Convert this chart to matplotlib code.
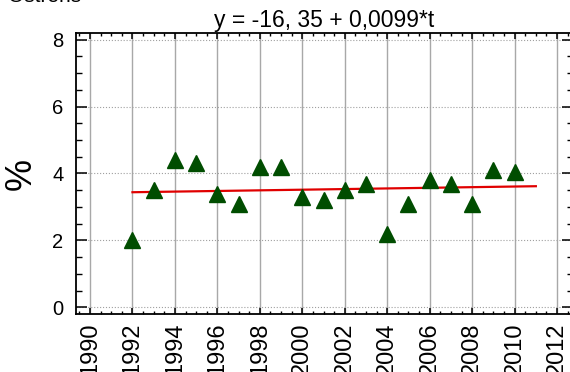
import matplotlib.pyplot as plt
from matplotlib.ticker import MultipleLocator

plt.rcParams['font.family'] = ['Liberation Sans', 'DejaVu Sans']

years = [1992, 1993, 1994, 1995, 1996, 1997, 1998, 1999, 2000, 2001,
         2002, 2003, 2004, 2005, 2006, 2007, 2008, 2009, 2010]
values = [2.0, 3.5, 4.4, 4.3, 3.4, 3.1, 4.2, 4.2, 3.3, 3.2,
          3.5, 3.7, 2.2, 3.1, 3.8, 3.7, 3.1, 4.1, 4.05]
trend_years = [1992, 2011]
trend_values = [3.44, 3.62]
title = 'y = -16, 35 + 0,0099*t'

fig = plt.figure(figsize=(5.7, 3.72), dpi=100)
ax = fig.add_axes([76 / 570, 1 - 314 / 372, (573 - 76) / 570, (314 - 33) / 372])

ax.plot(trend_years, trend_values, color='#e00000', lw=1.6, zorder=3)
ax.plot(years, values, '^', color='#004d00', ms=12, zorder=4, clip_on=False)

ax.set_xlim(1989.34, 2012.75)
ax.set_ylim(-0.2, 8.2)
ax.xaxis.set_major_locator(MultipleLocator(2))
ax.xaxis.set_minor_locator(MultipleLocator(0.5))
ax.yaxis.set_major_locator(MultipleLocator(2))
ax.yaxis.set_minor_locator(MultipleLocator(0.5))

ax.grid(True, axis='x', which='major', color='#a8a8a8', lw=1.0, ls='-')
ax.grid(True, axis='y', which='major', color='#a0a0a0', lw=0.8, ls=':')
ax.set_axisbelow(True)

ax.tick_params(axis='both', which='both', direction='in', top=True, right=True, color='black')
ax.tick_params(axis='x', which='major', length=4, width=1.1, labelsize=17, rotation=90, pad=6)
ax.tick_params(axis='x', which='minor', length=2.5, width=1.0)
ax.tick_params(axis='y', which='major', length=8, width=1.1, labelsize=14.5, pad=9)
ax.tick_params(axis='y', which='minor', length=4.5, width=1.0)
for s in ax.spines.values():
    s.set_linewidth(1.3)

ax.set_title(title, fontsize=16.5, pad=4)
ax.set_ylabel('%', fontsize=26, labelpad=10)
fig.text(0.014, 1 - 2 / 372, 'Ostrens', fontsize=15, va='baseline')

fig.savefig('out.png', dpi=100)
